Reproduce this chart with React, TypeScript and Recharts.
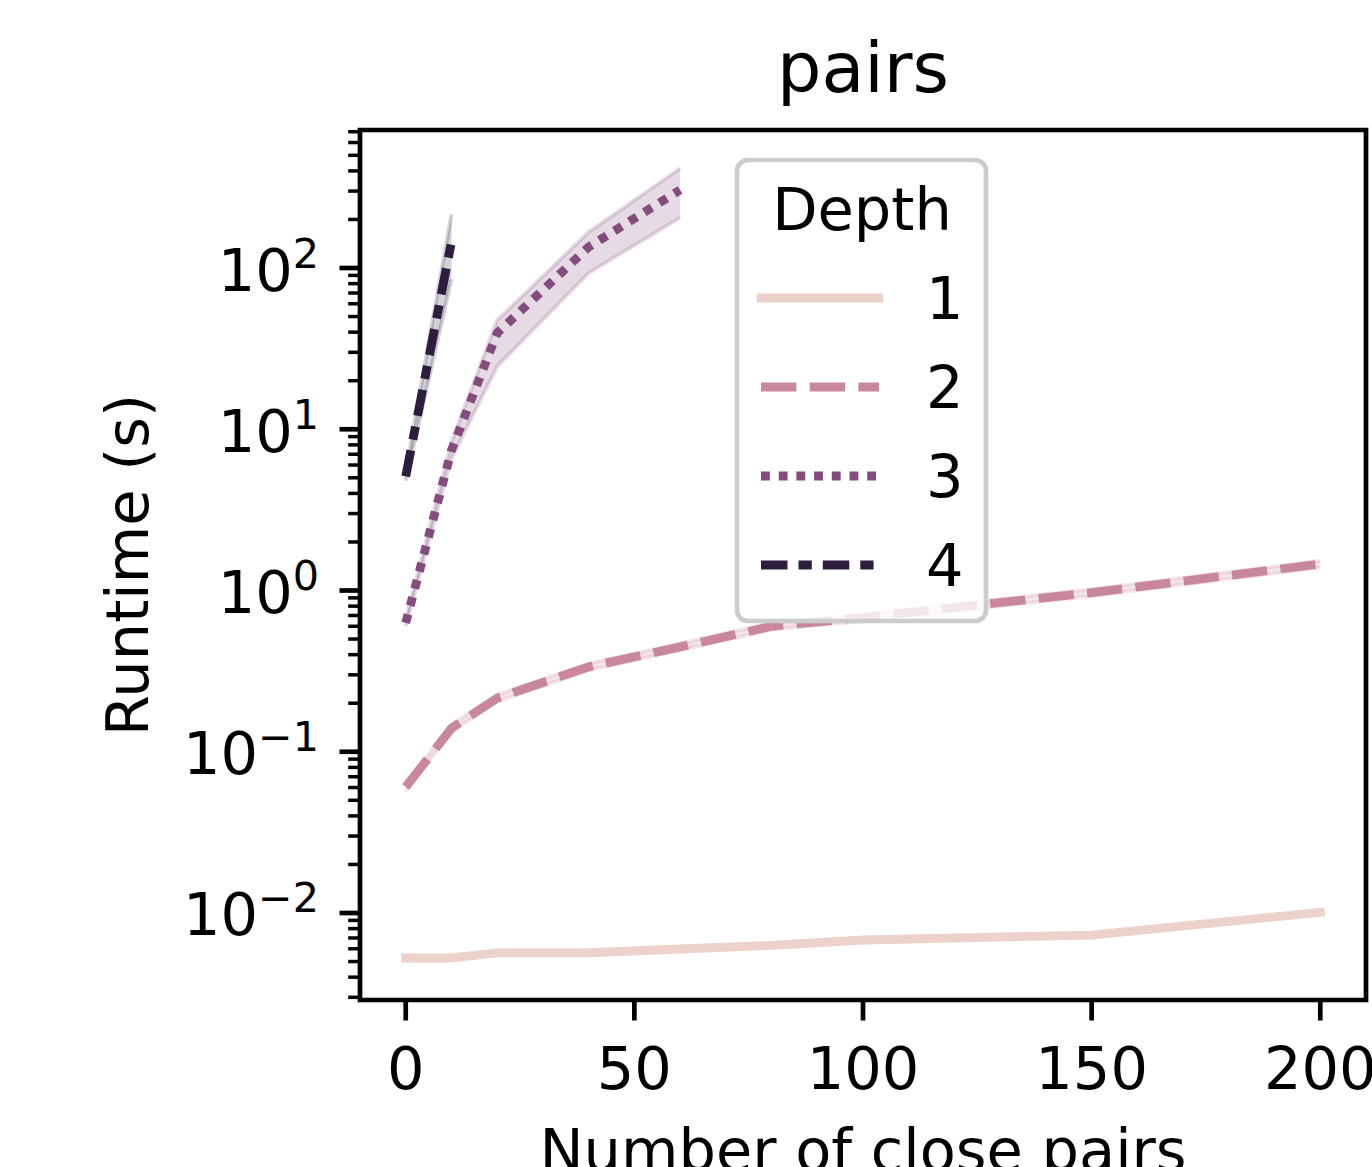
import React from 'react';
import { ComposedChart, Line, Area, XAxis, YAxis, ReferenceArea, Legend } from 'recharts';

const FONT = '"DejaVu Sans", "Liberation Sans", sans-serif';

// x positions (number of close pairs)
const xDepth1 = [0, 10, 20, 40, 60, 80, 100, 150, 200];
const xDepth2 = [0, 10, 20, 40, 60, 80, 100, 150, 200];
const xDepth3 = [0, 10, 20, 40, 60];
const xDepth4 = [0, 10];

// runtime (s): mean and confidence band
const depth1Mean = [0.00526, 0.00526, 0.00566, 0.00567, 0.00598, 0.0063, 0.0068, 0.0073, 0.0101];
const depth1Lo = [0.00508, 0.00509, 0.00547, 0.00549, 0.00578, 0.0061, 0.00658, 0.00706, 0.00975];
const depth1Hi = [0.00545, 0.00544, 0.00586, 0.00586, 0.00619, 0.00651, 0.00703, 0.00755, 0.01045];

const depth2Mean = [0.0604, 0.14, 0.215, 0.336, 0.447, 0.6, 0.68, 0.97, 1.46];
const depth2Lo = [0.057, 0.133, 0.205, 0.32, 0.426, 0.572, 0.648, 0.925, 1.39];
const depth2Hi = [0.064, 0.147, 0.226, 0.352, 0.469, 0.629, 0.713, 1.02, 1.53];

const depth3Mean = [0.63, 7.4, 39.5, 135, 305];
const depth3Lo = [0.6, 6.6, 24.5, 93, 205];
const depth3Hi = [0.66, 8.3, 47.5, 167, 415];

const depth4Mean = [5.1, 145];
const depth4Lo = [4.8, 85];
const depth4Hi = [5.4, 215];

const depthLabels = ['1', '2', '3', '4'];
const xTicks = [0, 50, 100, 150, 200];
const yMajorExps = [-3, -2, -1, 0, 1, 2];

const COLORS = ['#edd1cb', '#c8879e', '#834c7d', '#2d1e3e'];
const DASHES: (string | undefined)[] = [undefined, '35.4 13.3', '8.85 8.85', '26.5 11 13.3 11'];

const W = 1372;
const H = 1167;
const X_DOMAIN: [number, number] = [-10, 210];
const Y_MIN = 0.002887;
const Y_MAX = 717.6;

const yTicks: number[] = [];
yMajorExps.forEach((e) => {
  for (let m = 1; m <= 9; m++) {
    const v = Number((m * Math.pow(10, e)).toPrecision(3));
    if (v >= Y_MIN && v <= Y_MAX) yTicks.push(v);
  }
});

const build = (xs: number[], mean: number[], lo: number[], hi: number[]) =>
  xs.map((x, i) => ({ x, y: mean[i], lo: lo[i], hi: hi[i] }));

const series = [
  build(xDepth1, depth1Mean, depth1Lo, depth1Hi),
  build(xDepth2, depth2Mean, depth2Lo, depth2Hi),
  build(xDepth3, depth3Mean, depth3Lo, depth3Hi),
  build(xDepth4, depth4Mean, depth4Lo, depth4Hi),
];

const YTick = (props: any) => {
  const { x, y, payload } = props;
  const v = payload.value as number;
  const lg = Math.log10(v);
  const e = Math.round(lg);
  const major = Math.abs(lg - e) < 1e-6;
  return (
    <g>
      <line x1={x} x2={x - (major ? 20.5 : 11.8)} y1={y} y2={y} stroke="#000" strokeWidth={major ? 4.7 : 3.5} />
      {major && (
        <text x={x - 41} y={y + 22.5} textAnchor="end" fontFamily={FONT} fontSize={59} fill="#000">
          10
          <tspan dy={-23} fontSize={41.3}>
            {e < 0 ? '\u2212' + String(-e) : String(e)}
          </tspan>
        </text>
      )}
    </g>
  );
};

const XTick = (props: any) => {
  const { x, y, payload } = props;
  return (
    <g>
      <line x1={x} x2={x} y1={y} y2={y + 20.5} stroke="#000" strokeWidth={4.7} />
      <text x={x} y={y + 89} textAnchor="middle" fontFamily={FONT} fontSize={59} fill="#000">
        {payload.value}
      </text>
    </g>
  );
};

const renderLegend = () => (
  <svg width={258} height={470} style={{ display: 'block', overflow: 'visible' }}>
    <rect x={4} y={4} width={249} height={461} rx={11} ry={11} fill="#fff" fillOpacity={0.8} stroke="#cccccc" strokeWidth={4.7} />
    <text x={129} y={74} textAnchor="middle" fontFamily={FONT} fontSize={59} fill="#000">
      Depth
    </text>
    {depthLabels.map((lab, i) => {
      const cy = 142 + i * 89;
      return (
        <g key={lab}>
          <line
            x1={28}
            x2={146}
            y1={cy}
            y2={cy}
            stroke={COLORS[i]}
            strokeWidth={8.8}
            strokeDasharray={DASHES[i]}
            strokeLinecap={i === 0 ? 'square' : 'butt'}
          />
          <text x={193} y={cy + 21} fontFamily={FONT} fontSize={59} fill="#000">
            {lab}
          </text>
        </g>
      );
    })}
  </svg>
);

export default function App() {
  return (
    <div style={{ position: 'absolute', left: 0, top: 0, width: W, height: H, background: '#fff' }}>
      <ComposedChart width={W} height={H} margin={{ top: 130, right: 6, bottom: 0, left: 0 }}>
        <XAxis
          dataKey="x"
          type="number"
          domain={X_DOMAIN}
          ticks={xTicks}
          interval={0}
          allowDataOverflow
          tick={(p: any) => <XTick {...p} />}
          tickLine={false}
          axisLine={false}
          tickSize={0}
          tickMargin={0}
          height={167}
        />
        <YAxis
          type="number"
          scale="log"
          domain={[Y_MIN, Y_MAX]}
          ticks={yTicks}
          interval={0}
          allowDataOverflow
          tick={(p: any) => <YTick {...p} />}
          tickLine={false}
          axisLine={false}
          tickSize={0}
          tickMargin={0}
          width={360}
        />
        {series.map((data, i) => [
          <Line
            key={'line' + i}
            data={data}
            dataKey="y"
            type="linear"
            stroke={COLORS[i]}
            strokeWidth={8.8}
            strokeDasharray={DASHES[i]}
            strokeLinecap={i === 0 ? 'square' : 'butt'}
            strokeLinejoin="round"
            dot={false}
            activeDot={false}
            legendType="none"
            isAnimationActive={false}
          />,
          <Area
            key={'band' + i}
            data={data}
            dataKey={(d: any) => [d.lo, d.hi]}
            type="linear"
            fill={COLORS[i]}
            fillOpacity={0.2}
            stroke={COLORS[i]}
            strokeOpacity={0.2}
            strokeWidth={4}
            dot={false}
            activeDot={false}
            legendType="none"
            isAnimationActive={false}
          />,
        ])}
        <ReferenceArea
          x1={X_DOMAIN[0]}
          x2={X_DOMAIN[1]}
          y1={Y_MIN}
          y2={Y_MAX}
          fill="none"
          fillOpacity={0}
          stroke="#000"
          strokeWidth={4.7}
          ifOverflow="visible"
        />
        <text x={863} y={92} textAnchor="middle" fontFamily={FONT} fontSize={70} fill="#000">
          pairs
        </text>
        <text x={863} y={1171} textAnchor="middle" fontFamily={FONT} fontSize={59} fill="#000">
          Number of close pairs
        </text>
        <text x={148} y={565} transform="rotate(-90 148 565)" textAnchor="middle" fontFamily={FONT} fontSize={59} fill="#000">
          Runtime (s)
        </text>
        <Legend
          layout="vertical"
          align="center"
          verticalAlign="middle"
          content={renderLegend}
          wrapperStyle={{ position: 'absolute', left: 733, top: 156, width: 258, height: 470 }}
        />
      </ComposedChart>
    </div>
  );
}
